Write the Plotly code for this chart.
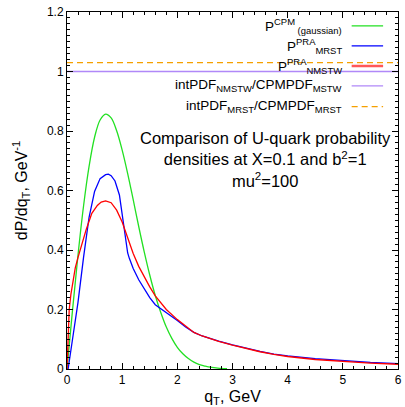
import plotly.graph_objects as go

# CPM gaussian
q_cpm = [0, 0.1, 0.2, 0.3, 0.4, 0.5, 0.6, 0.7, 0.8, 0.9, 1.0, 1.1, 1.2, 1.3, 1.4,
         1.5, 1.6, 1.7, 1.8, 1.9, 2.0, 2.1, 2.2, 2.3, 2.4, 2.5, 2.6, 2.7, 2.8, 2.9]
p_cpm = [0, 0.198, 0.384, 0.548, 0.681, 0.779, 0.837, 0.857, 0.844, 0.801, 0.736,
         0.657, 0.569, 0.479, 0.394, 0.316, 0.247, 0.190, 0.141, 0.103, 0.073,
         0.051, 0.035, 0.023, 0.015, 0.010, 0.006, 0.004, 0.002, 0.001]

# PRA, MRST
q_mrst = [0, 0.02, 0.1, 0.2, 0.3, 0.4, 0.5, 0.6, 0.7, 0.75, 0.8, 0.87, 0.95, 1.0,
          1.05, 1.1, 1.13, 1.2, 1.3, 1.4, 1.5, 1.6, 1.7, 1.8, 1.9, 2.0, 2.15, 2.3,
          2.45, 2.6, 2.75, 3.0, 3.25, 3.5, 3.75, 4.0, 4.5, 5.0, 5.5, 6.0]
p_mrst = [0, 0.0, 0.1, 0.225, 0.375, 0.51, 0.597, 0.64, 0.653, 0.655, 0.65,
          0.632, 0.585, 0.525, 0.457, 0.39, 0.372, 0.338, 0.30, 0.27, 0.24, 0.216,
          0.203, 0.19, 0.176, 0.163, 0.141, 0.123, 0.111, 0.102, 0.094, 0.081,
          0.069, 0.059, 0.050, 0.044, 0.035, 0.028, 0.022, 0.018]

# PRA, NMSTW
q_nmstw = [0, 0.02, 0.04, 0.07, 0.1, 0.15, 0.2, 0.27, 0.35, 0.45, 0.55, 0.62, 0.7,
           0.8, 0.9, 1.0, 1.1, 1.2, 1.3, 1.4, 1.5, 1.6, 1.8, 2.0, 2.15, 2.3, 2.45,
           2.6, 2.75, 3.0, 3.25, 3.5, 3.75, 4.0, 4.5, 5.0, 5.5, 6.0]
p_nmstw = [0, 0.12, 0.2, 0.25, 0.29, 0.34, 0.375, 0.422, 0.47, 0.523, 0.55, 0.561,
           0.565, 0.559, 0.534, 0.494, 0.44, 0.388, 0.345, 0.31, 0.276, 0.246, 0.2,
           0.166, 0.143, 0.123, 0.111, 0.101, 0.093, 0.08, 0.068, 0.058, 0.049,
           0.042, 0.032, 0.025, 0.02, 0.016]

# ratio lines
q_ratio = [0, 6]
ratio_nmstw = [1.0, 1.0]
ratio_mrst = [1.03, 1.03]

names = [
    "P<sup>CPM</sup><sub> (gaussian)</sub>",
    "P<sup>PRA</sup><sub>MRST</sub>",
    "P<sup>PRA</sup><sub>NMSTW</sub>",
    "intPDF<sub>NMSTW</sub>/CPMPDF<sub>MSTW</sub>",
    "intPDF<sub>MRST</sub>/CPMPDF<sub>MRST</sub>",
]
colors = ["#22e022", "#0000ff", "#ff0000", "#b088f8", "#f5a000"]
dashes = ["solid", "solid", "solid", "solid", "6px,4px"]
shapes = ["spline", "linear", "linear", "linear", "linear"]

series = [(q_cpm, p_cpm), (q_mrst, p_mrst), (q_nmstw, p_nmstw),
          (q_ratio, ratio_nmstw), (q_ratio, ratio_mrst)]

fig = go.Figure()
for (x, y), c, d, s in zip(series, colors, dashes, shapes):
    fig.add_trace(go.Scatter(x=x, y=y, mode="lines", showlegend=False,
                             line=dict(color=c, width=1.3, dash=d, shape=s)))

# hand-made legend: text right-aligned, sample line on the right
leg_y = [0.961, 0.905, 0.849, 0.793, 0.735]
for i, (nm, c, d) in enumerate(zip(names, colors, dashes)):
    fig.add_annotation(x=0.838, y=leg_y[i], xref="paper", yref="paper",
                       text=nm, showarrow=False, xanchor="right", yanchor="middle",
                       font=dict(size=13.5, color="black"))
    w = 2.5 if i == 2 else 1.3
    fig.add_shape(type="line", xref="paper", yref="paper", x0=0.86, x1=0.955,
                  y0=leg_y[i], y1=leg_y[i],
                  line=dict(color=c, width=w, dash=d),
                  opacity=0.65 if i == 2 else 1)

fig.add_annotation(x=0.6, y=0.678, xref="paper", yref="paper",
                   text="Comparison of U-quark probability<br>densities at X=0.1 and b<sup>2</sup>=1<br>mu<sup>2</sup>=100",
                   showarrow=False, xanchor="center", yanchor="top", align="center",
                   font=dict(size=16.5, color="black"))

axis_common = dict(showline=True, linecolor="black", linewidth=1, mirror="allticks",
                   ticks="inside", ticklen=6, tickcolor="black", showgrid=False,
                   zeroline=False, tickfont=dict(size=12, color="black"),
                   ticklabeloverflow="allow")

fig.update_xaxes(range=[0, 6], dtick=1, tick0=0,
                 minor=dict(dtick=0.2, ticks="inside", ticklen=3, tickcolor="black"),
                 title=dict(text="q<sub>T</sub>, GeV", font=dict(size=16, color="black"),
                            standoff=4),
                 **axis_common)
fig.update_yaxes(range=[0, 1.2], dtick=0.2, tick0=0,
                 minor=dict(dtick=0.02, ticks="inside", ticklen=3, tickcolor="black"),
                 title=dict(text="dP/dq<sub>T</sub>, GeV<sup>-1</sup>",
                            font=dict(size=16, color="black"), standoff=15),
                 **axis_common)

fig.update_layout(width=405, height=407,
                  margin=dict(l=67, r=3, t=12, b=38),
                  plot_bgcolor="white", paper_bgcolor="white",
                  font=dict(family="Liberation Sans, Arial, sans-serif", color="black"))

fig.write_html("out.html", config={"displayModeBar": False},
               post_script="document.body.style.margin='0';document.body.style.overflow='hidden';")
